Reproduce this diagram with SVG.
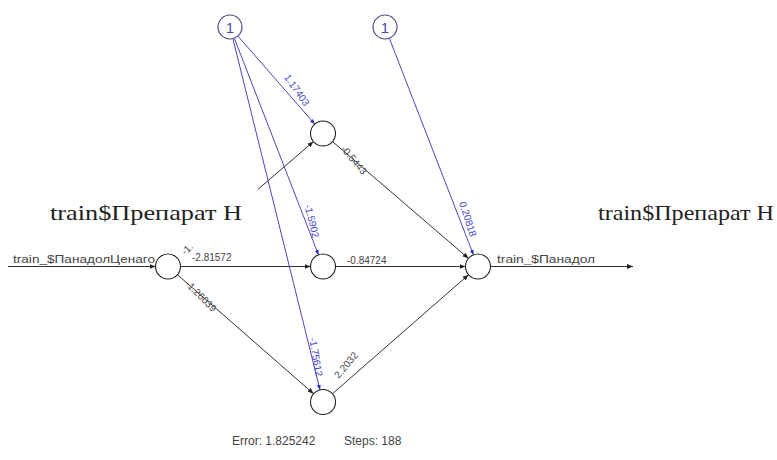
<svg xmlns="http://www.w3.org/2000/svg" width="777" height="460" viewBox="0 0 777 460">
  <defs>
    <marker id="ah" viewBox="0 0 10 10" refX="10" refY="5" markerWidth="6" markerHeight="6" orient="auto" markerUnits="userSpaceOnUse">
      <path d="M0,1 L10,5 L0,9 Z" fill="#222"/>
    </marker>
    <marker id="ahb" viewBox="0 0 10 10" refX="10" refY="5" markerWidth="5" markerHeight="5" orient="auto" markerUnits="userSpaceOnUse">
      <path d="M0,1 L10,5 L0,9 Z" fill="#2a2ad0"/>
    </marker>
    <style>
      .w { stroke: #333; stroke-width: 1; fill: none; }
      .b { stroke: #4848b8; stroke-width: 1; fill: none; }
      .node { fill: #fff; stroke: #222; stroke-width: 1.1; }
      .bias { fill: #fff; stroke: #4a4a80; stroke-width: 1.1; }
      .lbl { font-family: "Liberation Sans", Arial, sans-serif; font-size: 10px; fill: #444; }
      .lblb { font-family: "Liberation Sans", Arial, sans-serif; font-size: 10px; fill: #4545d0; }
      .var { font-family: "Liberation Sans", Arial, sans-serif; font-size: 10.5px; fill: #444; }
      .one { font-family: "Liberation Sans", Arial, sans-serif; font-size: 15px; fill: #4a4ac0; text-anchor: middle; }
      .title { font-family: "Liberation Serif", "Times New Roman", serif; font-size: 21px; fill: #222; }
      .err { font-family: "Liberation Sans", Arial, sans-serif; font-size: 12px; fill: #444; }
    </style>
  </defs>

  <!-- connectors -->
  <g id="connectors">
    <!-- input and output lines -->
    <line class="w" x1="8" y1="266.5" x2="155.5" y2="266.5" marker-end="url(#ah)"/>
    <line class="w" x1="490.5" y1="266.5" x2="633" y2="266.5" marker-end="url(#ah)"/>
    <!-- input to hidden -->
    <line class="w" x1="258" y1="189.3" x2="313.5" y2="141.6" marker-end="url(#ah)"/>
    <line class="w" x1="180.5" y1="266.5" x2="310.5" y2="266.5" marker-end="url(#ah)"/>
    <line class="w" x1="177.4" y1="274.7" x2="313.6" y2="393.8" marker-end="url(#ah)"/>
    <!-- hidden to output -->
    <line class="w" x1="332.5" y1="141.6" x2="468.5" y2="258.4" marker-end="url(#ah)"/>
    <line class="w" x1="335.5" y1="266.5" x2="465.5" y2="266.5" marker-end="url(#ah)"/>
    <line class="w" x1="332.4" y1="393.8" x2="468.6" y2="274.7" marker-end="url(#ah)"/>
    <!-- intercepts -->
    <line class="b" x1="238.2" y1="36.4" x2="314.8" y2="124.1" marker-end="url(#ahb)"/>
    <line class="b" x1="234.5" y1="38.7" x2="318.5" y2="254.9" marker-end="url(#ahb)"/>
    <line class="b" x1="233" y1="39.1" x2="320" y2="389.9" marker-end="url(#ahb)"/>
    <line class="b" x1="389.5" y1="38.7" x2="473.5" y2="254.9" marker-end="url(#ahb)"/>

    <!-- weights -->
    <text class="lbl" x="192" y="261">-2.81572</text>
    <text class="lbl" x="347" y="264">-0.84724</text>
    <text class="lbl" text-anchor="middle" dy="0.35em" transform="translate(187,249) rotate(-45)">-1.</text>
    <text class="lbl" text-anchor="middle" dy="0.35em" transform="translate(201,296) rotate(45)">-1.26039</text>
    <text class="lbl" text-anchor="middle" dy="0.35em" transform="translate(354,160) rotate(50)">-0.5443</text>
    <text class="lbl" text-anchor="middle" dy="0.35em" transform="translate(346,365) rotate(-50)">2.2032</text>
    <text class="lblb" text-anchor="middle" dy="0.35em" transform="translate(297,90) rotate(55)">1.17403</text>
    <text class="lblb" text-anchor="middle" dy="0.35em" transform="translate(312,221) rotate(76)">-1.5902</text>
    <text class="lblb" text-anchor="middle" dy="0.35em" transform="translate(316,357) rotate(80)">-1.75612</text>
    <text class="lblb" text-anchor="middle" dy="0.35em" transform="translate(468,219) rotate(72)">0.20818</text>
  </g>

  <!-- input node -->
  <g id="input">
    <circle class="node" cx="168" cy="266.5" r="12.5"/>
    <text class="var" x="13" y="263" textLength="142" lengthAdjust="spacingAndGlyphs">train_$ПанадолЦенаго</text>
  </g>

  <!-- hidden layer -->
  <g id="hidden1"><circle class="node" cx="323" cy="133.5" r="12.5"/></g>
  <g id="hidden2"><circle class="node" cx="323" cy="266.5" r="12.5"/></g>
  <g id="hidden3"><circle class="node" cx="323" cy="402" r="12.5"/></g>

  <!-- output node -->
  <g id="output">
    <circle class="node" cx="478" cy="266.5" r="12.5"/>
    <text class="var" x="497" y="263" textLength="98" lengthAdjust="spacingAndGlyphs">train_$Панадол</text>
  </g>

  <!-- intercept nodes -->
  <g id="bias1">
    <circle class="bias" cx="230" cy="27" r="12"/>
    <text class="one" x="230" y="32.5">1</text>
  </g>
  <g id="bias2">
    <circle class="bias" cx="385" cy="27" r="12"/>
    <text class="one" x="385" y="32.5">1</text>
  </g>

  <!-- headings -->
  <text class="title" x="50" y="220" textLength="192" lengthAdjust="spacingAndGlyphs">train$Препарат H</text>
  <text class="title" x="598" y="220" textLength="176" lengthAdjust="spacingAndGlyphs">train$Препарат H</text>

  <!-- fit summary -->
  <text class="err" x="232" y="445">Error: 1.825242</text>
  <text class="err" x="344" y="445">Steps: 188</text>
</svg>
